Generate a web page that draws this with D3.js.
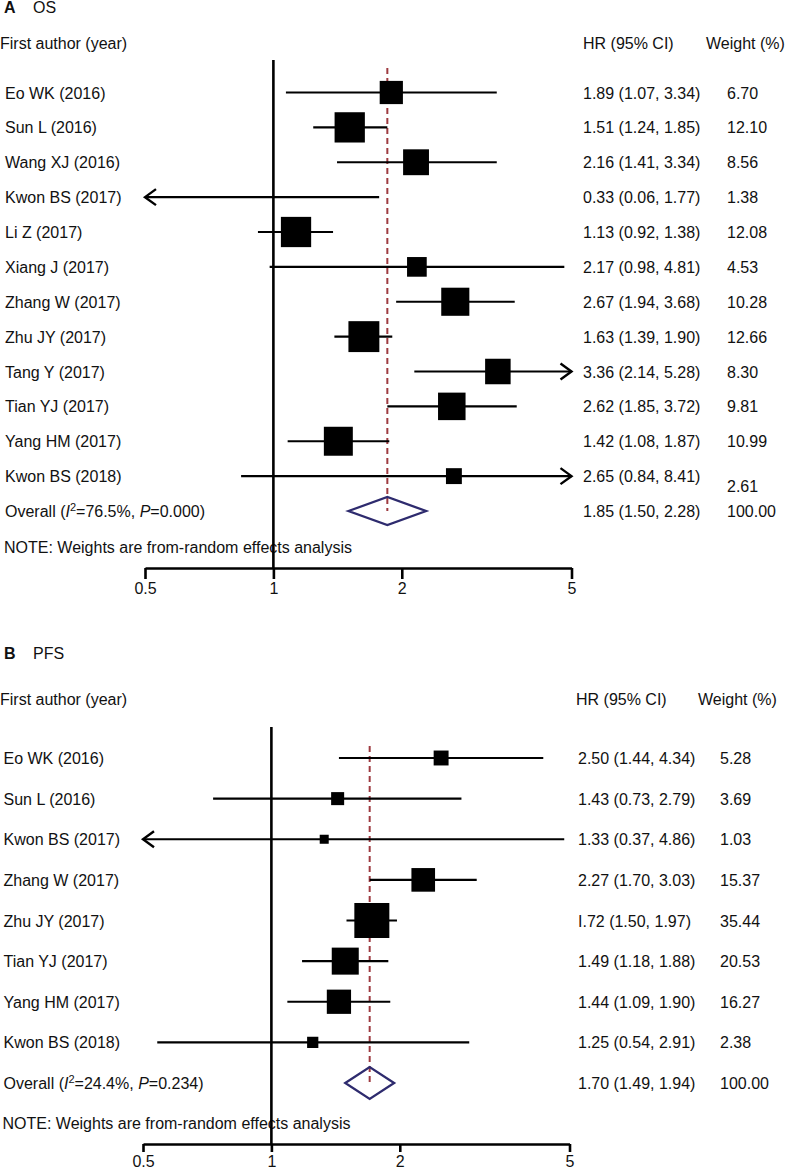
<!DOCTYPE html>
<html>
<head>
<meta charset="utf-8">
<script src="https://cdn.jsdelivr.net/npm/d3@7"></script>
<style>
  html, body { margin: 0; padding: 0; background: #fff; }
  svg { display: block; font-family: "Liberation Sans", Arial, Helvetica, sans-serif; }
</style>
</head>
<body>
<svg id="chart" width="786" height="1169"></svg>
<script>
// ---------- Panel A: OS ----------
const osAuthors = ["Eo WK (2016)", "Sun L (2016)", "Wang XJ (2016)", "Kwon BS (2017)", "Li Z (2017)", "Xiang J (2017)", "Zhang W (2017)", "Zhu JY (2017)", "Tang Y (2017)", "Tian YJ (2017)", "Yang HM (2017)", "Kwon BS (2018)"];
const osHR = [1.89, 1.51, 2.16, 0.33, 1.13, 2.17, 2.67, 1.63, 3.36, 2.62, 1.42, 2.65];
const osLow = [1.07, 1.24, 1.41, 0.06, 0.92, 0.98, 1.94, 1.39, 2.14, 1.85, 1.08, 0.84];
const osHigh = [3.34, 1.85, 3.34, 1.77, 1.38, 4.81, 3.68, 1.90, 5.28, 3.72, 1.87, 8.41];
const osHRText = ["1.89 (1.07, 3.34)", "1.51 (1.24, 1.85)", "2.16 (1.41, 3.34)", "0.33 (0.06, 1.77)", "1.13 (0.92, 1.38)", "2.17 (0.98, 4.81)", "2.67 (1.94, 3.68)", "1.63 (1.39, 1.90)", "3.36 (2.14, 5.28)", "2.62 (1.85, 3.72)", "1.42 (1.08, 1.87)", "2.65 (0.84, 8.41)"];
const osWeight = [6.70, 12.10, 8.56, 1.38, 12.08, 4.53, 10.28, 12.66, 8.30, 9.81, 10.99, 2.61];
const osOverall = [1.85, 1.50, 2.28];
const osOverallText = "1.85 (1.50, 2.28)";
const osI2 = "76.5%";
const osP = "0.000";

// ---------- Panel B: PFS ----------
const pfsAuthors = ["Eo WK (2016)", "Sun L (2016)", "Kwon BS (2017)", "Zhang W (2017)", "Zhu JY (2017)", "Tian YJ (2017)", "Yang HM (2017)", "Kwon BS (2018)"];
const pfsHR = [2.50, 1.43, 1.33, 2.27, 1.72, 1.49, 1.44, 1.25];
const pfsLow = [1.44, 0.73, 0.37, 1.70, 1.50, 1.18, 1.09, 0.54];
const pfsHigh = [4.34, 2.79, 4.86, 3.03, 1.97, 1.88, 1.90, 2.91];
const pfsHRText = ["2.50 (1.44, 4.34)", "1.43 (0.73, 2.79)", "1.33 (0.37, 4.86)", "2.27 (1.70, 3.03)", "I.72 (1.50, 1.97)", "1.49 (1.18, 1.88)", "1.44 (1.09, 1.90)", "1.25 (0.54, 2.91)"];
const pfsWeight = [5.28, 3.69, 1.03, 15.37, 35.44, 20.53, 16.27, 2.38];
const pfsOverall = [1.70, 1.49, 1.94];
const pfsOverallText = "1.70 (1.49, 1.94)";
const pfsI2 = "24.4%";
const pfsP = "0.234";

const tickValues = [0.5, 1, 2, 5];
const tickLabels = ["0.5", "1", "2", "5"];

const svg = d3.select("#chart");
const FONT = 16;

function drawPanel(cfg) {
  const g = svg.append("g");
  const x = d3.scaleLog().domain([0.5, 5]).range(cfg.xRange);
  const n = cfg.authors.length;
  const y = d3.scaleLinear().domain([0, n]).range([cfg.firstRow, cfg.overallRow]);
  const area = d3.scaleLinear().domain([0, d3.max(cfg.weight)]).range(cfg.areaRange);

  // Titles
  const t = g.append("text").attr("x", 4).attr("y", cfg.titleY).attr("font-size", FONT).attr("fill", "#111");
  t.append("tspan").attr("font-weight", "bold").text(cfg.letter);
  t.append("tspan").attr("x", 33).text(cfg.title);

  g.append("text").attr("x", 0).attr("y", cfg.headerY).attr("font-size", FONT).attr("fill", "#111").text("First author (year)");
  g.append("text").attr("x", cfg.hrHeaderX).attr("y", cfg.headerY).attr("font-size", FONT).attr("fill", "#111").text("HR (95% CI)");
  g.append("text").attr("x", cfg.wHeaderX).attr("y", cfg.headerY).attr("font-size", FONT).attr("fill", "#111").text("Weight (%)");

  // Row labels
  cfg.authors.forEach((a, i) => {
    const cy = y(i);
    g.append("text").attr("x", cfg.labelX).attr("y", cy + 6).attr("font-size", FONT).attr("fill", "#111").text(a);
    g.append("text").attr("x", cfg.hrX).attr("y", cy + 6).attr("font-size", FONT).attr("fill", "#111").text(cfg.hrText[i]);
    g.append("text").attr("x", cfg.wX).attr("y", cy + 6 + (cfg.wNudge[i] || 0)).attr("font-size", FONT).attr("fill", "#111").text(cfg.weight[i].toFixed(2));
  });

  // Overall label
  const oy = y(n);
  const ot = g.append("text").attr("x", cfg.labelX).attr("y", oy + 6).attr("font-size", FONT).attr("fill", "#111");
  ot.append("tspan").text("Overall (");
  ot.append("tspan").attr("font-style", "italic").text("I");
  ot.append("tspan").attr("font-size", 11).attr("dy", -6).text("2");
  ot.append("tspan").attr("dy", 6).text("=" + cfg.i2 + ", ");
  ot.append("tspan").attr("font-style", "italic").text("P");
  ot.append("tspan").text("=" + cfg.p + ")");
  g.append("text").attr("x", cfg.hrX).attr("y", oy + 6).attr("font-size", FONT).attr("fill", "#111").text(cfg.overallText);
  g.append("text").attr("x", cfg.wX).attr("y", oy + 6).attr("font-size", FONT).attr("fill", "#111").text("100.00");

  // Note
  g.append("text").attr("x", cfg.labelX - 1).attr("y", cfg.noteY + 6).attr("font-size", FONT).attr("fill", "#111")
    .text("NOTE: Weights are from-random effects analysis");

  // Reference line at 1
  g.append("line").attr("x1", x(1)).attr("x2", x(1)).attr("y1", cfg.refTop).attr("y2", cfg.axisY)
    .attr("stroke", "#000").attr("stroke-width", 2.6);

  // Axis
  const axis = d3.axisBottom(x).tickValues(tickValues).tickFormat((d, i) => tickLabels[i])
    .tickSize(cfg.tickLen).tickSizeOuter(0).tickPadding(4);
  const ax = g.append("g").attr("transform", `translate(0,${cfg.axisY})`).call(axis);
  ax.select(".domain").attr("stroke", "#000").attr("stroke-width", 2.6);
  ax.selectAll(".tick line").attr("stroke", "#000").attr("stroke-width", 2.6);
  ax.selectAll(".tick text").attr("font-size", FONT).attr("fill", "#111")
    .attr("font-family", "'Liberation Sans', Arial, sans-serif");

  // Dashed overall line
  g.append("line").attr("x1", x(cfg.overall[0])).attr("x2", x(cfg.overall[0]))
    .attr("y1", cfg.dashTop).attr("y2", oy)
    .attr("stroke", "#9e3a40").attr("stroke-width", 2).attr("stroke-dasharray", "6,4");

  const [xmin, xmax] = x.domain();
  // CI lines, arrows, squares
  cfg.authors.forEach((a, i) => {
    const cy = y(i);
    const lo = Math.max(cfg.low[i], xmin), hi = Math.min(cfg.high[i], xmax);
    g.append("line").attr("x1", x(lo)).attr("x2", x(hi)).attr("y1", cy).attr("y2", cy)
      .attr("stroke", "#000").attr("stroke-width", 2.2);
    if (cfg.low[i] < xmin) {
      const ax0 = x(xmin);
      g.append("path").attr("d", `M${ax0 + 11},${cy - 8}L${ax0},${cy}L${ax0 + 11},${cy + 8}`)
        .attr("fill", "none").attr("stroke", "#000").attr("stroke-width", 2.4);
    }
    if (cfg.high[i] > xmax) {
      const ax1 = x(xmax);
      g.append("path").attr("d", `M${ax1 - 11},${cy - 8}L${ax1},${cy}L${ax1 - 11},${cy + 8}`)
        .attr("fill", "none").attr("stroke", "#000").attr("stroke-width", 2.4);
    }
    const hr = cfg.hr[i];
    if (hr >= xmin && hr <= xmax) {
      const s = Math.sqrt(area(cfg.weight[i]));
      g.append("rect").attr("x", x(hr) - s / 2).attr("y", cy - s / 2).attr("width", s).attr("height", s)
        .attr("fill", "#000");
    }
  });

  // Diamond
  const [oh, ol, ou] = cfg.overall;
  g.append("path")
    .attr("d", `M${x(ol)},${oy}L${x(oh)},${oy - cfg.dh}L${x(ou)},${oy}L${x(oh)},${oy + cfg.dh}Z`)
    .attr("fill", "none").attr("stroke", "#2e2b6e").attr("stroke-width", 2.3);
}

drawPanel({
  letter: "A", title: "OS", titleY: 13, headerY: 49,
  authors: osAuthors, hr: osHR, low: osLow, high: osHigh, hrText: osHRText, weight: osWeight,
  overall: osOverall, overallText: osOverallText, i2: osI2, p: osP,
  xRange: [145, 571.5], firstRow: 92.5, overallRow: 511,
  noteY: 547, axisY: 568, tickLen: 11, refTop: 60, dashTop: 68,
  labelX: 5, hrX: 583, wX: 727, hrHeaderX: 583, wHeaderX: 706,
  areaRange: [70, 70 + 70 * 12.66], dh: 14, wNudge: { 11: 10 }
});

drawPanel({
  letter: "B", title: "PFS", titleY: 659, headerY: 705,
  authors: pfsAuthors, hr: pfsHR, low: pfsLow, high: pfsHigh, hrText: pfsHRText, weight: pfsWeight,
  overall: pfsOverall, overallText: pfsOverallText, i2: pfsI2, p: pfsP,
  xRange: [143, 569.5], firstRow: 758, overallRow: 1083,
  noteY: 1123, axisY: 1144, tickLen: 8, refTop: 727, dashTop: 746,
  labelX: 3.5, hrX: 578, wX: 720, hrHeaderX: 576, wHeaderX: 698,
  areaRange: [47, 47 + 33.25 * 35.44], dh: 16, wNudge: {}
});
</script>
</body>
</html>
